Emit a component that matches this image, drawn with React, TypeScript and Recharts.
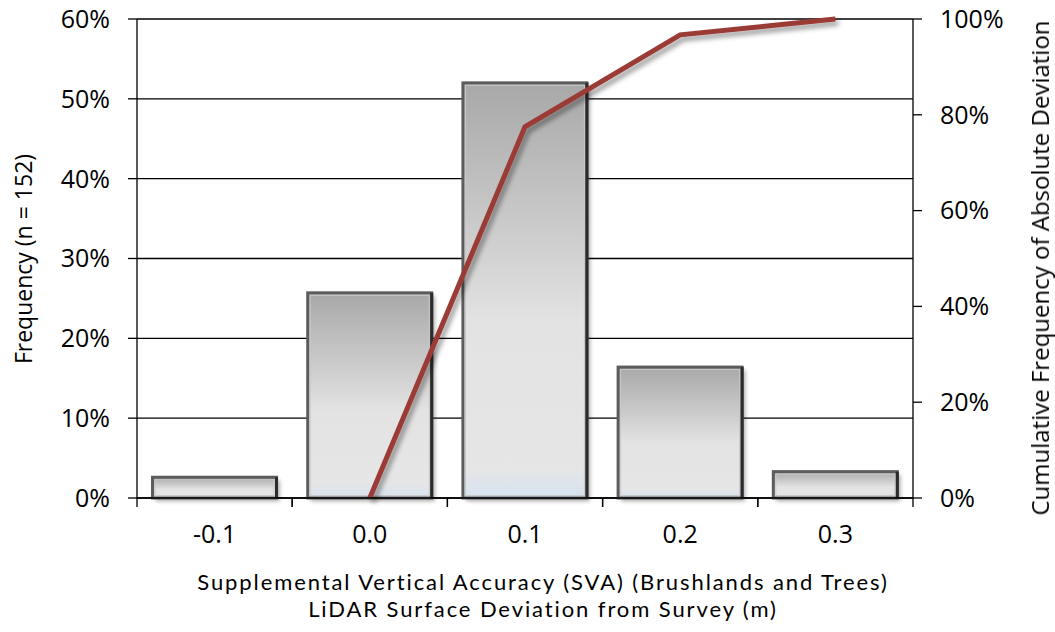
import { ComposedChart, Bar, Line, XAxis, YAxis, CartesianGrid } from 'recharts'

const categories = ['-0.1', '0.0', '0.1', '0.2', '0.3']
const frequency = [2.6, 25.7, 52.0, 16.4, 3.3]          // % of n = 152
const cumulative = [null, 0, 77.5, 96.7, 100]          // cumulative % (abs deviation)
const leftTicks = [0, 10, 20, 30, 40, 50, 60]
const rightTicks = [0, 20, 40, 60, 80, 100]
const xTitleLines = [
  'Supplemental Vertical Accuracy (SVA) (Brushlands and Trees)',
  'LiDAR Surface Deviation from Survey (m)',
]

const data = categories.map((c, i) => ({ cat: c, freq: frequency[i], cum: cumulative[i] }))

const W = 1055
const H = 632
const PLOT_L = 137
const PLOT_R = 913
const PLOT_B = 498
const BAND = (PLOT_R - PLOT_L) / categories.length
const FONT = '"Open Sans", sans-serif'
const TITLE_FONT = 'Lato, sans-serif'
const LINE_RED = '#9a3a36'

function BarShape({ x, y, width, height }: any) {
  if (!height) return null
  return (
    <g>
      <rect x={x + 3} y={y + 3} width={width} height={height} fill="#000" opacity={0.35} filter="url(#blur)" />
      <rect x={x} y={y} width={width} height={height} fill="url(#barFill)" stroke="#5c5c5c" strokeWidth={3} />
      <rect x={x + 2.5} y={y + 2.5} width={width - 5} height={Math.max(height - 5, 0)} fill="none" stroke="#c8c8c8" strokeWidth={1} />
      <line x1={x + width} x2={x + width} y1={y} y2={y + height} stroke="#2c2c2c" strokeWidth={3} />
    </g>
  )
}

function XTick({ x, payload }: any) {
  const half = BAND / 2
  return (
    <g>
      <line x1={x - half} x2={x - half} y1={PLOT_B} y2={PLOT_B + 9} stroke="#000" strokeWidth={1.3} />
      <line x1={x + half} x2={x + half} y1={PLOT_B} y2={PLOT_B + 9} stroke="#000" strokeWidth={1.3} />
      <text x={x} y={543} textAnchor="middle" fontSize={25} fontFamily={FONT} fill="#000">
        {payload.value}
      </text>
    </g>
  )
}

export default function App() {
  const tickStyle = { fill: '#000', fontSize: 25, fontFamily: FONT }
  return (
    <div style={{ position: 'fixed', left: 0, top: 0, width: W, height: H, background: '#fff', fontFamily: FONT }}>
      <ComposedChart
        width={W}
        height={H}
        data={data}
        margin={{ top: 19, right: 42, left: 37, bottom: 94 }}
        barCategoryGap="10%"
      >
        <defs>
          <linearGradient id="barFill" x1="0" y1="0" x2="0" y2="1">
            <stop offset="0%" stopColor="#a8a8a8" />
            <stop offset="30%" stopColor="#c6c6c6" />
            <stop offset="58%" stopColor="#e3e3e3" />
            <stop offset="93%" stopColor="#e6e6e6" />
            <stop offset="100%" stopColor="#d5e2f1" />
          </linearGradient>
          <filter id="blur" x="-20%" y="-20%" width="140%" height="140%">
            <feGaussianBlur stdDeviation="2" />
          </filter>
          <filter id="lineShadow" x="-10%" y="-10%" width="120%" height="120%">
            <feDropShadow dx="3" dy="4" stdDeviation="2.5" floodColor="#000" floodOpacity="0.4" />
          </filter>
        </defs>
        <CartesianGrid yAxisId="left" vertical={false} stroke="#000" strokeWidth={1.3} />
        <XAxis
          dataKey="cat"
          height={40}
          tickLine={false}
          axisLine={{ stroke: '#000', strokeWidth: 1.3 }}
          tick={<XTick />}
          interval={0}
        />
        <YAxis
          yAxisId="left"
          width={100}
          domain={[0, 60]}
          ticks={leftTicks}
          tickFormatter={(v) => `${v}%`}
          tick={tickStyle}
          tickSize={9}
          tickMargin={18}
          axisLine={{ stroke: '#000', strokeWidth: 1.3 }}
          tickLine={{ stroke: '#000', strokeWidth: 1.3 }}
        />
        <YAxis
          yAxisId="right"
          orientation="right"
          width={100}
          domain={[0, 100]}
          ticks={rightTicks}
          tickFormatter={(v) => `${v}%`}
          tick={{ ...tickStyle, textAnchor: 'start' }}
          tickSize={9}
          tickMargin={18}
          axisLine={{ stroke: '#000', strokeWidth: 1.3 }}
          tickLine={{ stroke: '#000', strokeWidth: 1.3 }}
        />
        <Bar yAxisId="left" dataKey="freq" shape={<BarShape />} isAnimationActive={false} />
        <Line
          yAxisId="right"
          dataKey="cum"
          type="linear"
          stroke={LINE_RED}
          strokeWidth={5}
          dot={false}
          activeDot={false}
          filter="url(#lineShadow)"
          isAnimationActive={false}
        />
      </ComposedChart>

      <div
        style={{
          position: 'absolute', left: 23, top: 259, fontSize: 23, lineHeight: '26px', whiteSpace: 'nowrap',
          transform: 'translate(-50%, -50%) rotate(-90deg)', color: '#000',
        }}
      >
        Frequency (n = 152)
      </div>
      <div
        style={{
          position: 'absolute', left: 1040, top: 268, fontSize: 24, lineHeight: '26px', whiteSpace: 'nowrap',
          transform: 'translate(-50%, -50%) rotate(-90deg)', color: '#000',
        }}
      >
        Cumulative Frequency of Absolute Deviation
      </div>
      {xTitleLines.map((t, i) => (
        <div
          key={t}
          style={{
            position: 'absolute', left: 543, top: 582 + i * 27, fontSize: 22, lineHeight: '26px',
            fontFamily: TITLE_FONT, letterSpacing: 1.9,
            whiteSpace: 'nowrap', transform: 'translate(-50%, -50%)', color: '#000',
          }}
        >
          {t}
        </div>
      ))}
    </div>
  )
}
